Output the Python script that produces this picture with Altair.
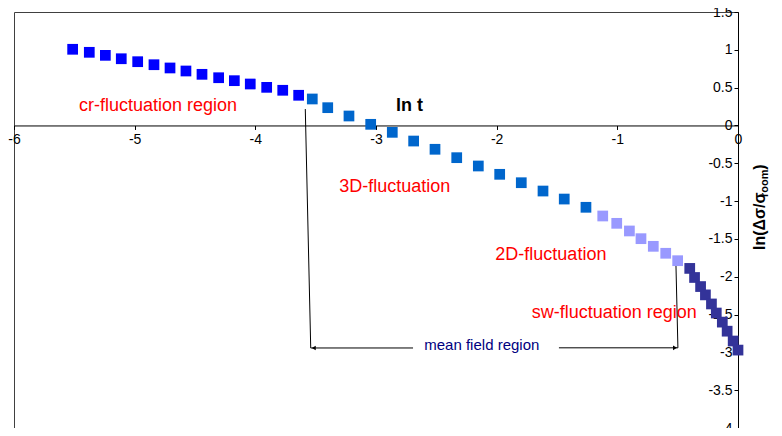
import altair as alt
import pandas as pd

# ---- data ----
x_cr = [-5.514, -5.376, -5.243, -5.111, -4.975, -4.840, -4.707, -4.575, -4.442, -4.304, -4.174, -4.042, -3.906, -3.773, -3.641]
y_cr = [1.007, 0.967, 0.927, 0.882, 0.843, 0.803, 0.760, 0.720, 0.676, 0.631, 0.592, 0.548, 0.504, 0.465, 0.399]

x_3d = [-3.528, -3.400, -3.224, -3.044, -2.865, -2.688, -2.511, -2.331, -2.152, -1.975, -1.796, -1.616, -1.440, -1.260]
y_3d = [0.350, 0.235, 0.125, 0.015, -0.091, -0.206, -0.315, -0.426, -0.536, -0.646, -0.757, -0.867, -0.973, -1.082]

x_2d = [-1.121, -1.005, -0.900, -0.804, -0.702, -0.599, -0.500]
y_2d = [-1.197, -1.294, -1.395, -1.497, -1.598, -1.690, -1.788]

x_sw = [-0.40, -0.36, -0.31, -0.27, -0.22, -0.18, -0.13, -0.09, -0.04, 0.00]
y_sw = [-1.89, -2.01, -2.13, -2.24, -2.36, -2.48, -2.60, -2.72, -2.85, -2.97]

groups = ["cr", "3D", "2D", "sw"]
group_colors = ["#0000FF", "#0066CC", "#9999FF", "#333399"]

x_ticks = [-6, -5, -4, -3, -2, -1, 0]
y_ticks = [1.5, 1, 0.5, 0, -0.5, -1, -1.5, -2, -2.5, -3, -3.5, -4]

# region labels
reg_text = ["cr-fluctuation region", "3D-fluctuation", "2D-fluctuation", "sw-fluctuation region"]
reg_x = [-5.461, -3.304, -2.011, -1.710]
reg_y = [0.195, -0.876, -1.779, -2.542]

# annotation lines (data coordinates)
seg_x = [-3.586, -3.541, -1.484, -0.498]
seg_y = [0.217, -2.942, -2.940, -2.940]
seg_x2 = [-3.541, -2.693, -0.498, -0.514]
seg_y2 = [-2.942, -2.942, -2.940, -1.858]

arrow_x = [-3.516, -0.522]
arrow_y = [-2.942, -2.940]
arrow_shape = ["triangle-left", "triangle-right"]

# ---- build table ----
frames = []
for g, xs, ys in zip(groups, [x_cr, x_3d, x_2d, x_sw], [y_cr, y_3d, y_2d, y_sw]):
    frames.append(pd.DataFrame({"x": xs, "y": ys, "group": g}))
df = pd.concat(frames, ignore_index=True)

W, H = 724, 416
FONT = "Liberation Sans"
xscale = alt.Scale(domain=[-6, 0], nice=False, zero=False)
yscale = alt.Scale(domain=[-4, 1.5], nice=False, zero=False)
xaxis = alt.Axis(
    title=None, values=x_ticks, offset=-(H * 4 / 5.5), orient="bottom",
    grid=False, tickSize=4, labelFontSize=14, labelFont=FONT, labelColor="black",
    domainColor="black", tickColor="black", labelPadding=3, labelFlush=False,
    labelOverlap=False, labelBound=False, labelExpr="datum.value + ''")
yaxis = alt.Axis(
    title=None, values=y_ticks, offset=-W, orient="left",
    grid=False, tickSize=4, labelFontSize=14, labelFont=FONT, labelColor="black",
    domainColor="black", tickColor="black", labelPadding=2, labelFlush=False,
    labelOverlap=False, labelBound=False, labelExpr="datum.value + ''")


def X(f):
    return alt.X(f, scale=xscale, axis=xaxis)


def Y(f):
    return alt.Y(f, scale=yscale, axis=yaxis)


points = alt.Chart(df).mark_square(size=115, opacity=1).encode(
    x=X("x:Q"), y=Y("y:Q"),
    color=alt.Color("group:N", scale=alt.Scale(domain=groups, range=group_colors), legend=None),
)

seg_df = pd.DataFrame({"x": seg_x, "y": seg_y, "x2": seg_x2, "y2": seg_y2})
segs = alt.Chart(seg_df).mark_rule(color="black", strokeWidth=1).encode(
    x=X("x:Q"), y=Y("y:Q"), x2="x2:Q", y2="y2:Q")

arr_df = pd.DataFrame({"x": arrow_x, "y": arrow_y, "shape": arrow_shape})
arrows = alt.Chart(arr_df).mark_point(filled=True, size=22, color="black", opacity=1).encode(
    x=X("x:Q"), y=Y("y:Q"),
    shape=alt.Shape("shape:N", scale=None))

reg_df = pd.DataFrame({"x": reg_x, "y": reg_y, "t": reg_text})
regions = alt.Chart(reg_df).mark_text(align="left", baseline="alphabetic", fontSize=18,
                                        font=FONT, color="#FF0000").encode(
    x=X("x:Q"), y=Y("y:Q"), text="t:N")

mf_df = pd.DataFrame({"x": [-2.600], "y": [-2.969], "t": ["mean field region"]})
meanfield = alt.Chart(mf_df).mark_text(align="left", baseline="alphabetic", fontSize=15,
                                         font=FONT, color="#000080").encode(
    x=X("x:Q"), y=Y("y:Q"), text="t:N")

lnt_df = pd.DataFrame({"x": [-2.834], "y": [0.195], "t": ["ln t"]})
lnt = alt.Chart(lnt_df).mark_text(align="left", baseline="alphabetic", fontSize=18,
                                   font=FONT, fontWeight="bold", color="black").encode(
    x=X("x:Q"), y=Y("y:Q"), text="t:N")

# rotated y-axis title with subscript
yt_main = pd.DataFrame({"x": [0.182, 0.182], "y": [-1.646, -0.585], "t": ["ln(Δσ/σ", ")"]})
ytitle_main = alt.Chart(yt_main).mark_text(align="left", baseline="middle", angle=270, fontSize=16,
                                           font=FONT, fontWeight="bold", color="black").encode(
    x=X("x:Q"), y=Y("y:Q"), text="t:N")
yt_sub = pd.DataFrame({"x": [0.226], "y": [-0.945], "t": ["room"]})
ytitle_sub = alt.Chart(yt_sub).mark_text(align="left", baseline="middle", angle=270, fontSize=11,
                                         font=FONT, fontWeight="bold", color="black").encode(
    x=X("x:Q"), y=Y("y:Q"), text="t:N")

chart = alt.layer(points, segs, arrows, regions, meanfield, lnt, ytitle_main, ytitle_sub).properties(
    width=W, height=H,
    autosize=alt.AutoSizeParams(type="none"),
    padding={"left": 6, "top": 4, "right": 34, "bottom": 0},
).configure_view(stroke="#404040", strokeWidth=1)

chart.save("out.html", embed_options={"renderer": "svg", "actions": False})
